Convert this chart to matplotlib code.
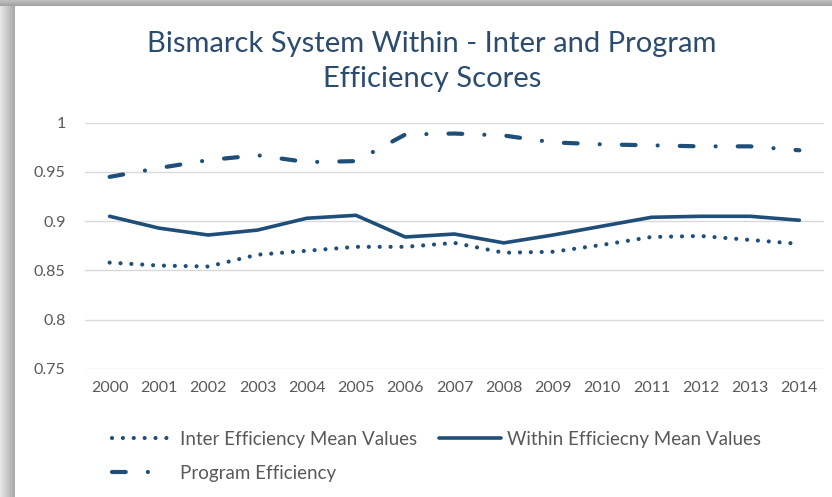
import matplotlib
matplotlib.use('Agg')
import matplotlib.pyplot as plt
import numpy as np
from matplotlib.patches import Rectangle

# data
years = ['2000', '2001', '2002', '2003', '2004', '2005', '2006', '2007',
         '2008', '2009', '2010', '2011', '2012', '2013', '2014']
inter_eff = [0.858, 0.855, 0.854, 0.866, 0.870, 0.874, 0.874, 0.878,
             0.868, 0.869, 0.876, 0.884, 0.885, 0.881, 0.877]
within_eff = [0.905, 0.893, 0.886, 0.891, 0.903, 0.906, 0.884, 0.887,
              0.878, 0.886, 0.895, 0.904, 0.905, 0.905, 0.901]
program_eff = [0.945, 0.954, 0.962, 0.967, 0.960, 0.961, 0.988, 0.989,
               0.987, 0.980, 0.978, 0.977, 0.976, 0.976, 0.972]
y_ticks = [0.75, 0.8, 0.85, 0.9, 0.95, 1.0]
y_labels = ['0.75', '0.8', '0.85', '0.9', '0.95', '1']

line_col = '#1F4E79'
text_col = '#595959'
plt.rcParams['font.family'] = ['Lato', 'DejaVu Sans']

W, H = 832, 497
fig = plt.figure(figsize=(W / 100, H / 100), dpi=100)
fig.patch.set_facecolor('white')

# shadowed frame of the screenshot
bg = fig.add_axes([0, 0, 1, 1], zorder=-10)
bg.set_axis_off()
bg.set_xlim(0, W)
bg.set_ylim(H, 0)
grad = np.linspace(0.90, 0.66, 15)
bg.imshow(np.tile(grad, (H, 1)), cmap='gray', vmin=0, vmax=1,
          extent=(0, 15, H, 0), aspect='auto')
bg.imshow(np.tile(np.linspace(0.74, 0.64, 6)[:, None], (1, W)), cmap='gray',
          vmin=0, vmax=1, extent=(0, W, 6, 0), aspect='auto')
bg.add_patch(Rectangle((15, 6), W - 15, H - 6, facecolor='white', edgecolor='none'))

ax = fig.add_axes([85 / W, 1 - 369 / H, 739 / W, 246.3 / H])
ax.set_facecolor('none')
x = np.arange(len(years))

l1, = ax.plot(x, inter_eff, color=line_col, lw=3.0, dashes=(0.01, 2.6),
              dash_capstyle='round', label='Inter Efficiency Mean Values')
l2, = ax.plot(x, within_eff, color=line_col, lw=2.6, solid_capstyle='round',
              label='Within Efficiecny Mean Values')
l3, = ax.plot(x, program_eff, color=line_col, lw=3.0, dashes=(3.3, 5.3, 0.01, 5.3),
              dash_capstyle='round', label='Program Efficiency')

ax.set_xlim(-0.5, len(years) - 0.5)
ax.set_ylim(0.75, 1.0)
ax.set_yticks(y_ticks)
ax.set_yticklabels(y_labels)
ax.set_xticks(x)
ax.set_xticklabels(years)
ax.tick_params(length=0, labelsize=11.5, labelcolor=text_col)
ax.tick_params(axis='y', pad=14)
ax.tick_params(axis='x', pad=9)
ax.grid(axis='y', color='#D9D9D9', lw=1)
for s in ax.spines.values():
    s.set_visible(False)

fig.text(432 / W, 1 - 44 / H, 'Bismarck System Within - Inter and Program',
         ha='center', va='center', fontsize=21, color='#2B4C6F')
fig.text(432 / W, 1 - 79 / H, 'Efficiency Scores',
         ha='center', va='center', fontsize=21, color='#2B4C6F')

# row-wise order: Inter, Within on the first row, Program below
leg = fig.legend(handles=[l1, l3, l2], ncol=2, loc='upper left',
                 bbox_to_anchor=(95 / W, 1 - 414 / H), frameon=False,
                 fontsize=13.5, handlelength=3.3, handletextpad=0.32,
                 columnspacing=1.2, labelspacing=0.9, labelcolor=text_col)
# the program sample only shows one dash and one dot
leg.legend_handles[1].set_dashes((3.3, 5.3, 0.01, 30))

fig.savefig('out.png', dpi=100)
